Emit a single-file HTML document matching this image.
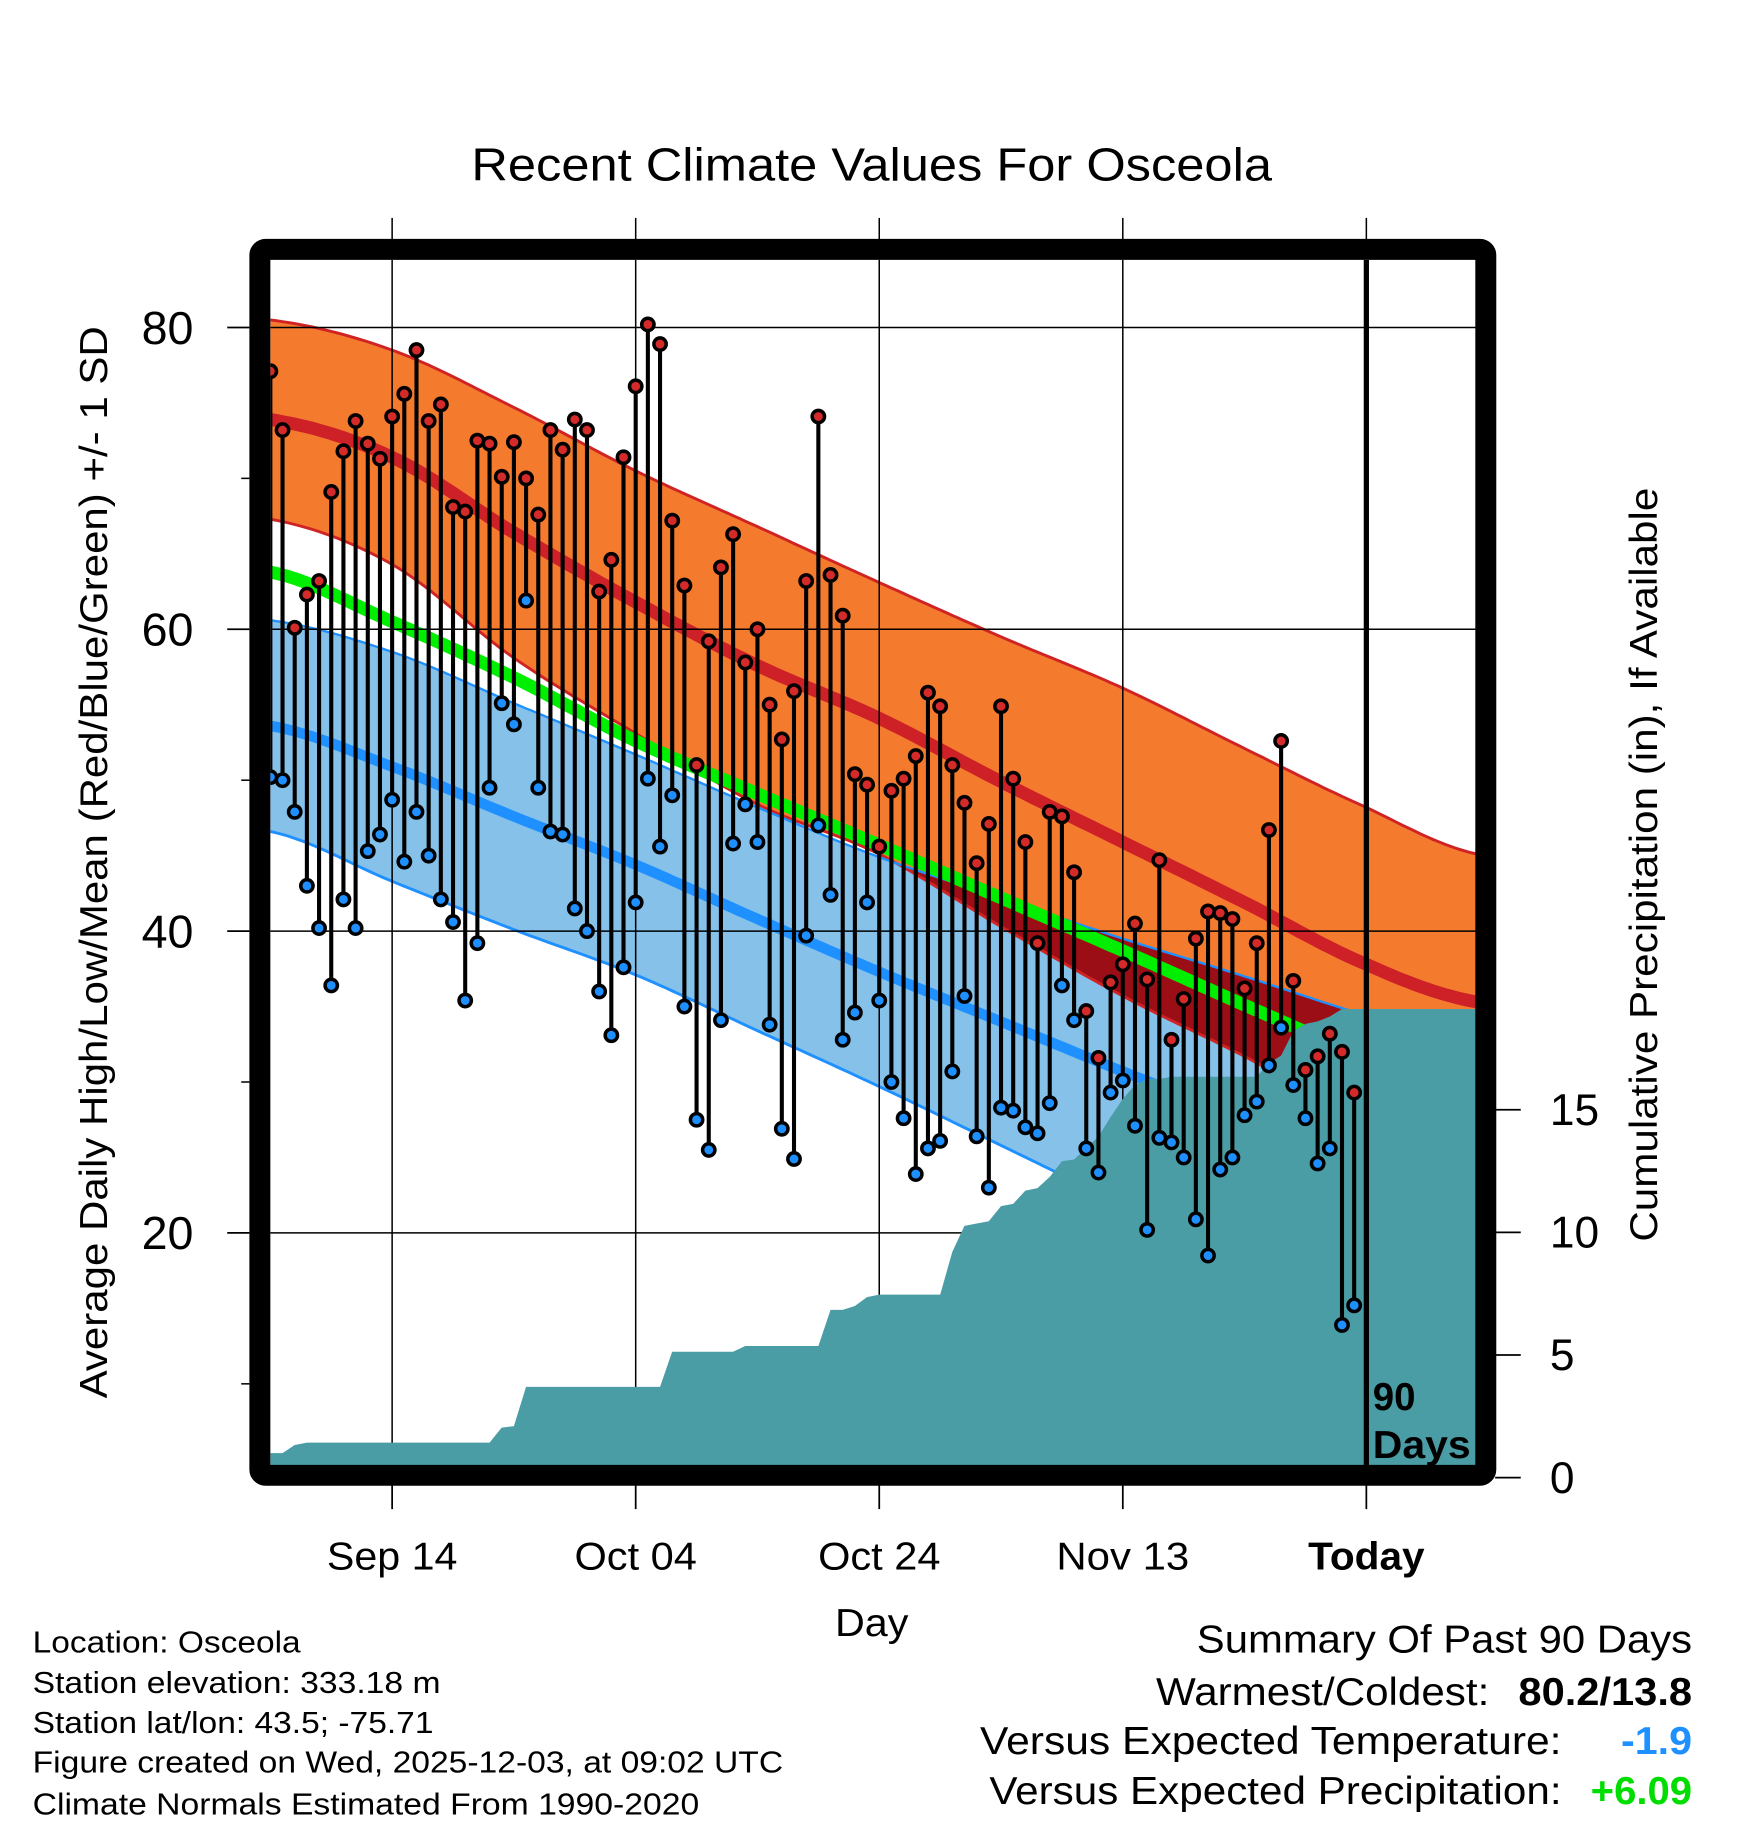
<!DOCTYPE html>
<html><head><meta charset="utf-8"><style>
html,body{margin:0;padding:0;background:#fff;}
svg{display:block;font-family:"Liberation Sans",Arial,sans-serif;}
</style></head><body>
<svg id="chart" width="1748" height="1828" viewBox="0 0 1500 1568.65" preserveAspectRatio="none" xmlns="http://www.w3.org/2000/svg">
<defs>
<clipPath id="plotClip"><rect x="232" y="223" width="1036" height="1035"/></clipPath>
<clipPath id="blueClip"><path id="blueClipPath" d=""/></clipPath>
</defs>
<text x="748" y="155" font-size="40" text-anchor="middle" textLength="687" lengthAdjust="spacingAndGlyphs">Recent Climate Values For Osceola</text>
<g id="grid"></g>
<g id="plot" clip-path="url(#plotClip)"></g>
<g id="axes"></g>
<rect x="223" y="214" width="1052" height="1052" rx="5" fill="none" stroke="#000" stroke-width="18"/>
<text transform="translate(92,740) rotate(-90)" font-size="33" text-anchor="middle" textLength="920" lengthAdjust="spacingAndGlyphs">Average Daily High/Low/Mean (Red/Blue/Green) +/- 1 SD</text>
<text transform="translate(1422,742) rotate(-90)" font-size="33" text-anchor="middle" textLength="647" lengthAdjust="spacingAndGlyphs">Cumulative Precipitation (in), If Available</text>
<text x="748" y="1404" font-size="33" text-anchor="middle" textLength="63" lengthAdjust="spacingAndGlyphs">Day</text>
<text x="1178" y="1210" font-size="33" font-weight="bold">90</text>
<text x="1178" y="1251" font-size="33" font-weight="bold" textLength="84" lengthAdjust="spacingAndGlyphs">Days</text>
<g font-size="26">
<text x="28" y="1418" textLength="230" lengthAdjust="spacingAndGlyphs">Location: Osceola</text>
<text x="28" y="1453" textLength="350" lengthAdjust="spacingAndGlyphs">Station elevation: 333.18 m</text>
<text x="28" y="1487" textLength="344" lengthAdjust="spacingAndGlyphs">Station lat/lon: 43.5; -75.71</text>
<text x="28" y="1521" textLength="644" lengthAdjust="spacingAndGlyphs">Figure created on Wed, 2025-12-03, at 09:02 UTC</text>
<text x="28" y="1557" textLength="572" lengthAdjust="spacingAndGlyphs">Climate Normals Estimated From 1990-2020</text>
</g>
<g font-size="33">
<text x="1452" y="1418" text-anchor="end" textLength="425" lengthAdjust="spacingAndGlyphs">Summary Of Past 90 Days</text>
<text x="1278" y="1463" text-anchor="end" textLength="286" lengthAdjust="spacingAndGlyphs">Warmest/Coldest:</text>
<text x="1452" y="1463" text-anchor="end" font-weight="bold" textLength="149" lengthAdjust="spacingAndGlyphs">80.2/13.8</text>
<text x="1340" y="1505" text-anchor="end" textLength="499" lengthAdjust="spacingAndGlyphs">Versus Expected Temperature:</text>
<text x="1452" y="1505" text-anchor="end" font-weight="bold" fill="#1e90ff" textLength="61" lengthAdjust="spacingAndGlyphs">-1.9</text>
<text x="1340" y="1548" text-anchor="end" textLength="491" lengthAdjust="spacingAndGlyphs">Versus Expected Precipitation:</text>
<text x="1452" y="1548" text-anchor="end" font-weight="bold" fill="#00dd00" textLength="87" lengthAdjust="spacingAndGlyphs">+6.09</text>
</g>
</svg>
<script>
const highs=[77.1,73.2,60.1,62.3,63.2,69.1,71.8,73.8,72.3,71.3,74.1,75.6,78.5,73.8,74.9,68.1,67.8,72.5,72.3,70.1,72.4,70.0,67.6,73.2,71.9,73.9,73.2,62.5,64.6,71.4,76.1,80.2,78.9,67.2,62.9,51.0,59.2,64.1,66.3,57.8,60.0,55.0,52.7,55.9,63.2,74.1,63.6,60.9,50.4,49.7,45.6,49.3,50.1,51.6,55.8,54.9,51.0,48.5,44.5,47.1,54.9,50.1,45.9,39.2,47.9,47.6,43.9,34.7,31.6,36.6,37.8,40.5,36.8,44.7,32.8,35.5,39.5,41.3,41.2,40.8,36.2,39.2,46.7,52.6,36.7,30.8,31.7,33.2,32.0,29.3];
const lows=[50.2,50.0,47.9,43.0,40.2,36.4,42.1,40.2,45.3,46.4,48.7,44.6,47.9,45.0,42.1,40.6,35.4,39.2,49.5,55.1,53.7,61.9,49.5,46.6,46.4,41.5,40.0,36.0,33.1,37.6,41.9,50.1,45.6,49.0,35.0,27.5,25.5,34.1,45.8,48.4,45.9,33.8,26.9,24.9,39.7,47.0,42.4,32.8,34.6,41.9,35.4,30.0,27.6,23.9,25.6,26.1,30.7,35.7,26.4,23.0,28.3,28.1,27.0,26.6,28.6,36.4,34.1,25.6,24.0,29.3,30.1,27.1,20.2,26.3,26.0,25.0,20.9,18.5,24.2,25.0,27.8,28.7,31.1,33.6,29.8,27.6,24.6,25.6,13.9,15.2];
const precip=[1.0,1.0,1.33,1.43,1.43,1.43,1.43,1.43,1.43,1.43,1.43,1.43,1.43,1.43,1.43,1.43,1.43,1.43,1.43,2.04,2.1,3.7,3.7,3.7,3.7,3.7,3.7,3.7,3.7,3.7,3.7,3.7,3.7,5.13,5.13,5.13,5.13,5.13,5.13,5.37,5.37,5.37,5.37,5.37,5.37,5.37,6.84,6.84,7.0,7.36,7.46,7.46,7.46,7.46,7.46,7.46,9.2,10.26,10.36,10.45,11.07,11.16,11.7,11.8,12.26,12.9,12.97,13.44,13.9,14.7,15.44,16.0,16.25,16.25,16.34,16.34,16.34,16.34,16.34,16.34,16.34,16.34,16.9,17.2,18.2,18.5,18.6,18.8,19.1,19.1];
const normDays=[0,10,20,30,40,50,60,70,80,90,99.1];
const highMean=[73.9,71.4,66.4,61.8,57.6,54.1,49.9,45.9,41.9,37.8,35.3];
const highSD=[6.6,7.1,8.3,8.7,9.2,9.0,9.6,10.2,10.2,10.4,9.8];
const meanTemp=[63.8,60.5,56.8,52.6,49.1,45.7,42.2,38.7,35.1,31.6,28.3];
const lowMean=[53.6,50.9,47.6,44.4,40.8,37.3,34.0,30.7,27.6,24.5,21.8];
const lowSD=[7.0,7.6,7.5,7.3,7.4,7.6,8.2,8.8,9.4,9.9,10.4];
const xTickDays=[10,30,50,70,90];
const xTickLabels=["Sep 14","Oct 04","Oct 24","Nov 13","Today"];
const xTickWidths=[112,105,105,114,100];
const yTicks=[80,60,40,20];
const yMinor=[70,50,30,10];
const pTicks=[0,5,10,15];

const NS="http://www.w3.org/2000/svg";
const X0=232, DX=10.45, XR=1268;
function xs(d){return X0+d*DX;}
function ys(t){return 281+(80-t)*12.95;}
function ps(v){return 1268-v*21.05;}
function mk(tag,attrs,parent){const e=document.createElementNS(NS,tag);for(const k in attrs)e.setAttribute(k,attrs[k]);parent.appendChild(e);return e;}
const plot=document.getElementById('plot'), grid=document.getElementById('grid'), axes=document.getElementById('axes');

// smooth (Catmull-Rom) interpolation between normal samples
function interp(arr,d){
  const n=normDays.length;
  let k=0; while(k<n-2 && d>normDays[k+1])k++;
  const t=Math.max(0,Math.min(1,(d-normDays[k])/(normDays[k+1]-normDays[k])));
  const p0=arr[Math.max(0,k-1)],p1=arr[k],p2=arr[k+1],p3=arr[Math.min(n-1,k+2)];
  const m1=(p2-p0)/2,m2=(p3-p1)/2,t2=t*t,t3=t2*t;
  return (2*t3-3*t2+1)*p1+(t3-2*t2+t)*m1+(-2*t3+3*t2)*p2+(t3-t2)*m2;
}
const steps=[];for(let d=0;d<=99.1;d+=0.5)steps.push(d);steps.push(99.1);
function curve(f){return steps.map(d=>[xs(d),ys(f(d))]);}
function ptsStr(a){return a.map(p=>p[0].toFixed(1)+','+p[1].toFixed(1)).join(' ');}
function bandPath(up,lo){return 'M'+ptsStr(up).replace(/ /g,' L')+' L'+ptsStr(lo.slice().reverse()).replace(/ /g,' L')+' Z';}

const bUp=curve(d=>interp(lowMean,d)+interp(lowSD,d)), bLo=curve(d=>interp(lowMean,d)-interp(lowSD,d));
const bb=mk('path',{d:bandPath(bUp,bLo),fill:'#85c1e9'},plot);


document.getElementById('blueClipPath').setAttribute('d',bandPath(bUp,bLo));
const bLoLine=mk('polyline',{points:ptsStr(bLo),fill:'none',stroke:'#1e90ff','stroke-width':2.5},plot);


const oUp=curve(d=>interp(highMean,d)+interp(highSD,d)), oLo=curve(d=>interp(highMean,d)-interp(highSD,d));
const ob=mk('path',{d:bandPath(oUp,oLo),fill:'#f47a2e'},plot);


const ov=mk('path',{d:bandPath(oUp,oLo),fill:'#9b0e16','clip-path':'url(#blueClip)'},plot);


[oUp,oLo].forEach((c,i)=>{const l=mk('polyline',{points:ptsStr(c),fill:'none',stroke:'#d02424','stroke-width':2.5},plot);

});
const bUpLine=mk('polyline',{points:ptsStr(bUp),fill:'none',stroke:'#1e90ff','stroke-width':2},plot);


const gl=mk('polyline',{points:ptsStr(curve(d=>interp(meanTemp,d))),fill:'none',stroke:'#00ee00','stroke-width':11},plot);


const rl=mk('polyline',{points:ptsStr(curve(d=>interp(highMean,d))),fill:'none',stroke:'#cd2027','stroke-width':11},plot);


const bl=mk('polyline',{points:ptsStr(curve(d=>interp(lowMean,d))),fill:'none',stroke:'#1e90ff','stroke-width':9},plot);



yTicks.forEach(t=>{const l=mk('line',{x1:196,x2:1283,y1:ys(t),y2:ys(t),stroke:'#000','stroke-width':1.3},plot);

});
xTickDays.forEach((d,i)=>{const l=mk('line',{x1:xs(d),x2:xs(d),y1:187,y2:1270,stroke:'#000','stroke-width':1.3},plot);

});

let pd='M'+xs(0)+','+ps(0);
precip.forEach((v,i)=>{pd+=' L'+xs(i).toFixed(1)+','+ps(v).toFixed(1);});
pd+=' L'+XR+','+ps(precip[precip.length-1]).toFixed(1)+' L'+XR+','+ps(0)+' L'+X0+','+(ps(0)+5)+' Z';
const pa=mk('path',{d:pd,fill:'#4a9ca5'},plot);



highs.forEach((h,i)=>{const s=mk('line',{x1:xs(i),x2:xs(i),y1:ys(h),y2:ys(lows[i]),stroke:'#000','stroke-width':3.5},plot);

});
highs.forEach((h,i)=>{const c=mk('circle',{cx:xs(i),cy:ys(h),r:5.3,fill:'#d42a2a',stroke:'#000','stroke-width':3},plot);


const c2=mk('circle',{cx:xs(i),cy:ys(lows[i]),r:5.3,fill:'#1e8fff',stroke:'#000','stroke-width':3},plot);

});
const tl=mk('line',{x1:xs(90),x2:xs(90),y1:223,y2:1260,stroke:'#000','stroke-width':4.5},plot);



xTickDays.forEach((d,i)=>{const l=mk('line',{x1:xs(d),x2:xs(d),y1:187,y2:214,stroke:'#000','stroke-width':1.3},grid);


const t=mk('line',{x1:xs(d),x2:xs(d),y1:1270,y2:1295,stroke:'#000','stroke-width':1.5},axes);


const tx=mk('text',{x:xs(d),y:1347,'font-size':33,'text-anchor':'middle',textLength:xTickWidths[i],lengthAdjust:'spacingAndGlyphs'},axes);
if(i===xTickDays.length-1)tx.setAttribute('font-weight','bold');
tx.textContent=xTickLabels[i];

});
yTicks.forEach(t=>{const l=mk('line',{x1:195,x2:214,y1:ys(t),y2:ys(t),stroke:'#000','stroke-width':1.5},axes);


const tx=mk('text',{x:166,y:ys(t)+14,'font-size':40,'text-anchor':'end'},axes);
tx.textContent=t;

});
yMinor.forEach(t=>{const l=mk('line',{x1:207,x2:214,y1:ys(t),y2:ys(t),stroke:'#000','stroke-width':1.3},axes);

});
pTicks.forEach(v=>{const l=mk('line',{x1:1283,x2:1305,y1:ps(v),y2:ps(v),stroke:'#000','stroke-width':1.5},axes);


const tx=mk('text',{x:1330,y:ps(v)+13,'font-size':38},axes);
tx.textContent=v;

});
</script>
</body></html>
